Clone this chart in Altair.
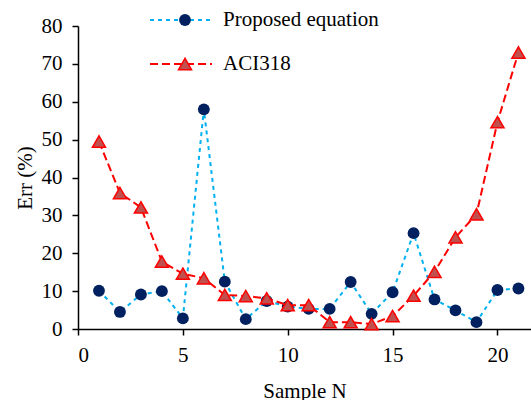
import altair as alt
import pandas as pd

samples = list(range(1, 22))
proposed = [10.1, 4.5, 9.1, 10.0, 2.8, 58.0, 12.5, 2.6, 7.4, 5.9, 5.3, 5.3, 12.4, 4.0, 9.7, 25.3, 7.8, 4.9, 1.8, 10.3, 10.7]
aci318 = [49.5, 35.9, 32.1, 17.8, 14.6, 13.4, 9.0, 8.7, 8.1, 6.3, 6.3, 1.8, 1.8, 1.3, 3.4, 8.8, 15.1, 24.2, 30.3, 54.6, 73.0]
series_names = ["Proposed equation", "ACI318"]
x_ticks = [0, 5, 10, 15, 20]
y_ticks = [0, 10, 20, 30, 40, 50, 60, 70, 80]

FONT = "Liberation Serif"
BLUE = "#00B0F0"
NAVY = "#002060"
RED = "#FF0000"
TRI_FILL = "#C0504D"

df_p = pd.DataFrame({"n": samples, "err": proposed, "series": series_names[0]})
df_a = pd.DataFrame({"n": samples, "err": aci318, "series": series_names[1]})

xs = alt.Scale(domain=[0, 21.6], nice=False, zero=False)
ys = alt.Scale(domain=[0, 80], nice=False)

axis_style = dict(
    grid=False, domainColor="black", domainWidth=1.5, tickColor="black", tickWidth=1.5, tickSize=6,
    labelFont=FONT, labelFontSize=21, labelColor="black",
    titleFont=FONT, titleFontSize=21, titleColor="black", titleFontWeight="normal", format="d",
)
x_enc = alt.X("n:Q", scale=xs, axis=alt.Axis(values=x_ticks, title="Sample N", labelPadding=9, titlePadding=15, **axis_style))
y_enc = alt.Y("err:Q", scale=ys, axis=alt.Axis(values=y_ticks, title="Err (%)", labelPadding=10, titlePadding=6, **axis_style))

line_p = alt.Chart(df_p).mark_line(color=BLUE, strokeWidth=2, strokeDash=[4, 4]).encode(x=x_enc, y=y_enc)
pts_p = alt.Chart(df_p).mark_point(shape="circle", filled=True, color=NAVY, opacity=1, size=140).encode(x=x_enc, y=y_enc)
line_a = alt.Chart(df_a).mark_line(color=RED, strokeWidth=2, strokeDash=[8, 4]).encode(x=x_enc, y=y_enc)
pts_a = alt.Chart(df_a).mark_point(shape="triangle-up", filled=True, fill=TRI_FILL, stroke=RED, strokeWidth=1.5, opacity=1, size=170).encode(x=x_enc, y=y_enc)

# legend (layout positions are in pixels relative to the plot area)
leg_rows = [-6, 38]
leg = []
for name, yy, lc, dash in [(series_names[0], leg_rows[0], BLUE, [4, 4]), (series_names[1], leg_rows[1], RED, [8, 4])]:
    ldf = pd.DataFrame({"label": [name]})
    leg.append(alt.Chart(ldf).mark_rule(color=lc, strokeWidth=2, strokeDash=dash).encode(
        x=alt.value(72), x2=alt.value(134), y=alt.value(yy)))
    if name == series_names[0]:
        leg.append(alt.Chart(ldf).mark_point(shape="circle", filled=True, color=NAVY, opacity=1, size=140).encode(
            x=alt.value(107), y=alt.value(yy)))
    else:
        leg.append(alt.Chart(ldf).mark_point(shape="triangle-up", filled=True, fill=TRI_FILL, stroke=RED, strokeWidth=1.5, opacity=1, size=170).encode(
            x=alt.value(107), y=alt.value(yy)))
    leg.append(alt.Chart(ldf).mark_text(font=FONT, fontSize=21, align="left", baseline="middle", color="black").encode(
        x=alt.value(145), y=alt.value(yy), text="label:N"))

chart = alt.layer(line_p, pts_p, line_a, pts_a, *leg).properties(
    width=453, height=303,
    padding={"left": 78, "top": 26, "right": 0, "bottom": 71},
    autosize="none",
).configure(font=FONT).configure_view(stroke=None)

chart.save("out.html", embed_options={"renderer": "svg", "actions": False})
